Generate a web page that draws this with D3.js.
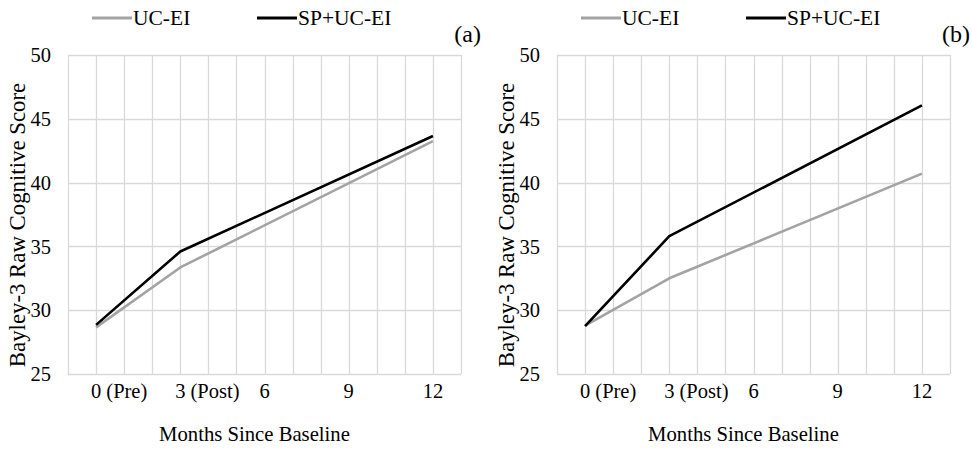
<!doctype html>
<html>
<head>
<meta charset="utf-8">
<script src="https://d3js.org/d3.v7.min.js"></script>
<style>
body { margin:0; background:#fff; }
svg text { font-family: 'Liberation Serif', 'Times New Roman', serif; fill:#000; }
</style>
</head>
<body>
<div id="chart"></div>
<script>
// data
var months = [0, 3, 12];
var tickValues = [0, 3, 6, 9, 12];
var tickSuffix = [" (Pre)", " (Post)", "", "", ""];
var yTicks = [25, 30, 35, 40, 45, 50];
var seriesNames = ["UC-EI", "SP+UC-EI"];
var panelA_uc = [28.65, 33.35, 43.25];
var panelA_sp = [28.85, 34.6, 43.65];
var panelB_uc = [28.8, 32.5, 40.7];
var panelB_sp = [28.75, 35.8, 46.05];

var colors = ["#a3a3a3", "#000000"];

var svg = d3.select("#chart").append("svg")
  .attr("width", 972).attr("height", 450);

function panel(left, series, tag) {
  var x0 = left + 68, x1 = left + 461;
  var y = d3.scaleLinear().domain([25, 50]).range([374, 55]);
  var x = d3.scaleLinear().domain([-1, 13]).range([x0, x1]);
  var g = svg.append("g");

  // vertical gridlines every month
  g.selectAll(".vg").data(d3.range(-1, 14))
    .enter().append("line")
    .attr("x1", function(d){ return Math.round(x(d)) + 0.5; })
    .attr("x2", function(d){ return Math.round(x(d)) + 0.5; })
    .attr("y1", y(25)).attr("y2", y(50))
    .attr("stroke", "#d9d9d9").attr("stroke-width", 1.3);

  g.selectAll(".hg").data(yTicks)
    .enter().append("line")
    .attr("x1", x0).attr("x2", x1)
    .attr("y1", function(d){ return Math.round(y(d)) + 0.5; })
    .attr("y2", function(d){ return Math.round(y(d)) + 0.5; })
    .attr("stroke", "#d9d9d9").attr("stroke-width", 1.3);

  // y tick labels
  g.selectAll(".yl").data(yTicks)
    .enter().append("text")
    .attr("x", x0 - 17).attr("y", function(d){ return y(d); })
    .attr("dy", "0.35em")
    .attr("text-anchor", "end")
    .style("font-size", "20.5px")
    .text(function(d){ return d; });

  // x tick labels: the number sits centred on its gridline
  tickValues.forEach(function(v, i) {
    var t = g.append("text")
      .attr("y", 398)
      .style("font-size", "20.5px")
      .text(String(v));
    var w = t.node().getComputedTextLength();
    t.attr("x", x(v) - w / 2).text(v + tickSuffix[i]);
  });

  // axis titles
  g.append("text")
    .attr("transform", "translate(" + (left + 25) + ",225) rotate(-90)")
    .attr("text-anchor", "middle")
    .style("font-size", "22.8px")
    .text("Bayley-3 Raw Cognitive Score");

  g.append("text")
    .attr("x", (x0 + x1) / 2 - 10).attr("y", 441)
    .attr("text-anchor", "middle")
    .style("font-size", "20.7px")
    .text("Months Since Baseline");

  // lines
  var line = d3.line()
    .x(function(d, i){ return x(months[i]); })
    .y(function(d){ return y(d); });

  series.forEach(function(s, i) {
    g.append("path")
      .datum(s)
      .attr("d", line)
      .attr("fill", "none")
      .attr("stroke", colors[i])
      .attr("stroke-width", 2.6)
      .attr("stroke-linejoin", "round");
  });

  // legend
  var lx = [left + 92, left + 257];
  seriesNames.forEach(function(n, i) {
    g.append("line")
      .attr("x1", lx[i]).attr("x2", lx[i] + 40)
      .attr("y1", 18).attr("y2", 18)
      .attr("stroke", colors[i]).attr("stroke-width", 2.8);
    g.append("text")
      .attr("x", lx[i] + 41).attr("y", 25)
      .style("font-size", "21.5px")
      .text(n);
  });

  g.append("text")
    .attr("x", x1 + 20).attr("y", 42)
    .attr("text-anchor", "end")
    .style("font-size", "24px")
    .text(tag);
}

panel(0, [panelA_uc, panelA_sp], "(a)");
panel(489, [panelB_uc, panelB_sp], "(b)");
</script>
</body>
</html>
